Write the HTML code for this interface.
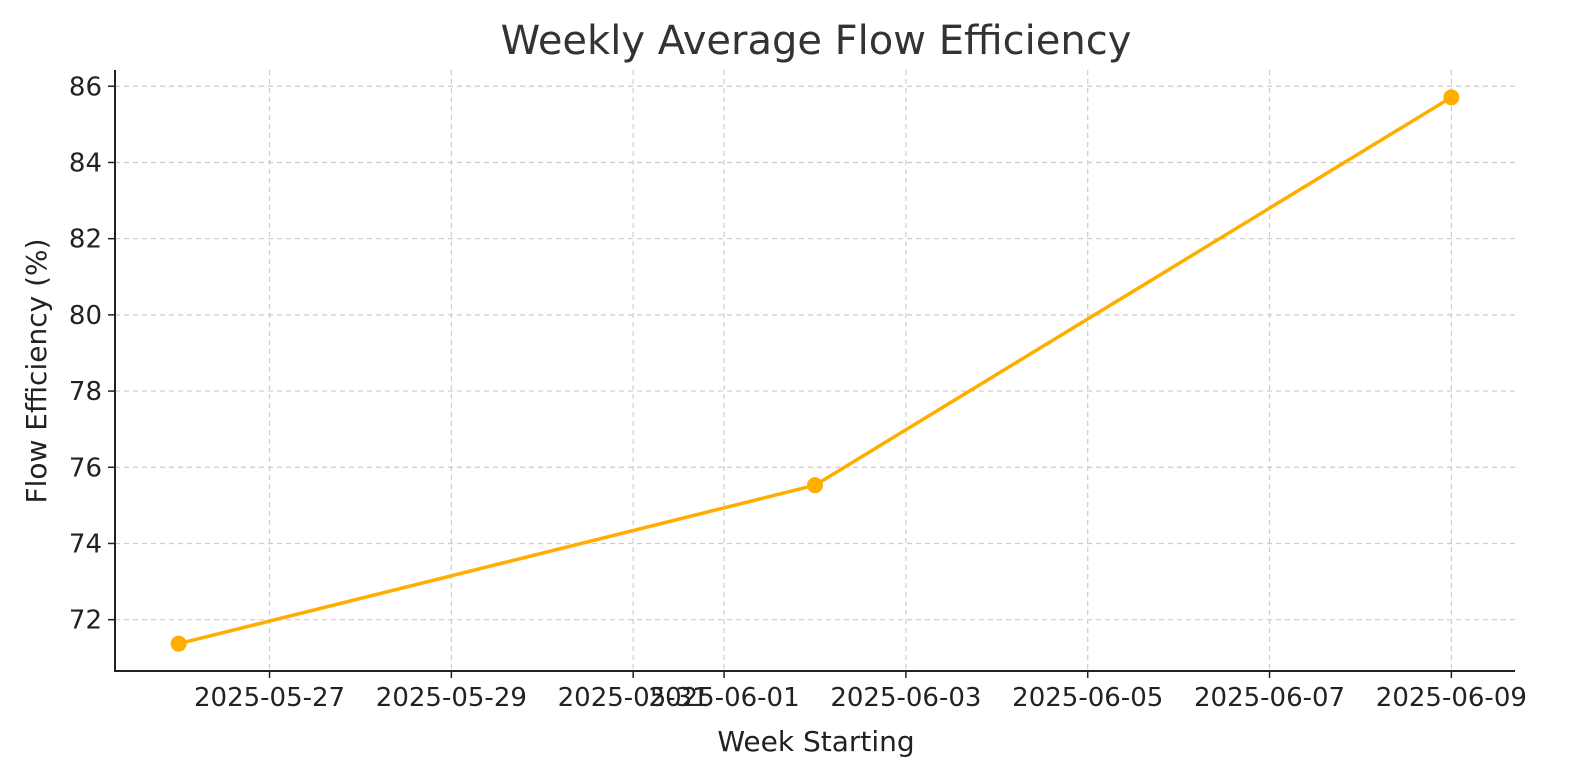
<!DOCTYPE html>
<html><head><meta charset="utf-8"><style>
html,body{margin:0;padding:0;background:#fff;width:1572px;height:780px;overflow:hidden}
text{font-family:"DejaVu Sans","Liberation Sans",sans-serif}
</style></head><body>
<svg id="chart" width="1572" height="780" xmlns="http://www.w3.org/2000/svg">
<rect width="1572" height="780" fill="#fff"/>
<text x="816" y="54" font-size="40" fill="#333" text-anchor="middle">Weekly Average Flow Efficiency</text>
<g id="grid"></g><g id="axes"></g><g id="series"></g>
<text x="816" y="751" font-size="28" fill="#222" text-anchor="middle">Week Starting</text>
<text transform="translate(46,371) rotate(-90)" font-size="28" fill="#222" text-anchor="middle">Flow Efficiency (%)</text>
</svg>
<script>
const dates = ["2025-05-26","2025-06-02","2025-06-09"];
const values = [71.37, 75.53, 85.71];
const xTickLabels = ["2025-05-27","2025-05-29","2025-05-31","2025-06-01","2025-06-03","2025-06-05","2025-06-07","2025-06-09"];
const yTicks = [72,74,76,78,80,82,84,86];

const NS="http://www.w3.org/2000/svg";
const L=115,R=1515,T=70,B=671;
const day=s=>Date.parse(s+"T00:00:00Z")/86400000;
const dmin=day(dates[0]),dmax=day(dates[dates.length-1]);
const dpad=(dmax-dmin)*0.05;
const x=s=>L+(day(s)-(dmin-dpad))/((dmax+dpad)-(dmin-dpad))*(R-L);
const vmin=Math.min(...values),vmax=Math.max(...values),vpad=(vmax-vmin)*0.05;
const y=v=>B-(v-(vmin-vpad))/((vmax+vpad)-(vmin-vpad))*(B-T);
function mk(tag,attrs,parent){const e=document.createElementNS(NS,tag);for(const k in attrs)e.setAttribute(k,attrs[k]);parent.appendChild(e);return e;}
const grid=document.getElementById('grid'),axes=document.getElementById('axes'),series=document.getElementById('series');
xTickLabels.forEach(t=>{const px=x(t);
 const g=mk('line',{x1:px,x2:px,y1:T,y2:B,stroke:'#ccc','stroke-width':1.2,'stroke-dasharray':'5,4'},grid);
 
 
 const tk=mk('line',{x1:px,x2:px,y1:B,y2:B+7,stroke:'#222','stroke-width':1.5},axes);
 
 
 const tx=mk('text',{x:px,y:706,'font-size':26,fill:'#222','text-anchor':'middle'},axes);
 tx.textContent=t;
 
 
});
yTicks.forEach(v=>{const py=y(v);
 const g=mk('line',{x1:L,x2:R,y1:py,y2:py,stroke:'#ccc','stroke-width':1.2,'stroke-dasharray':'5,4'},grid);
 
 
 const tk=mk('line',{x1:L-7,x2:L,y1:py,y2:py,stroke:'#222','stroke-width':1.5},axes);
 
 
 const tx=mk('text',{x:L-13,y:py+9,'font-size':26,fill:'#222','text-anchor':'end'},axes);
 tx.textContent=v;
 
 
});
const ya=mk('line',{x1:L,x2:L,y1:T,y2:B+1,stroke:'#222','stroke-width':2},axes);


const xa=mk('line',{x1:L-1,x2:R,y1:B,y2:B,stroke:'#222','stroke-width':2},axes);


const pl=mk('polyline',{points:dates.map((d,i)=>x(d)+','+y(values[i])).join(' '),fill:'none',stroke:'#FFAE00','stroke-width':3.5},series);


dates.forEach((d,i)=>{const c=mk('circle',{cx:x(d),cy:y(values[i]),r:8,fill:'#FFAE00'},series);
 
 
});
</script>
</body></html>
